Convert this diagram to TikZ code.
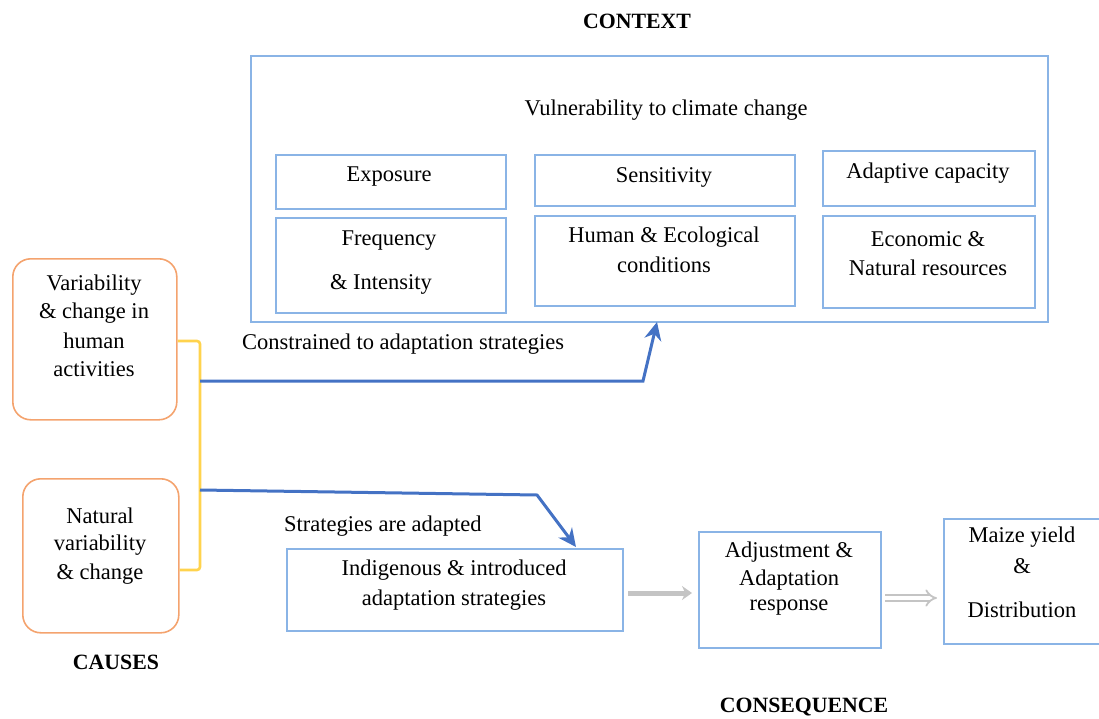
\documentclass[tikz,border=0pt]{standalone}
\usepackage{fontspec}
\setmainfont{Liberation Serif}
\usetikzlibrary{arrows.meta}
\definecolor{boxblue}{HTML}{8AB4E6}
\definecolor{arrowblue}{HTML}{4472C4}
\definecolor{boxorange}{HTML}{F4A36E}
\definecolor{bracketyellow}{HTML}{FFD34D}
\definecolor{arrowgray}{HTML}{C4C4C4}
\begin{document}
\begin{tikzpicture}[x=1pt,y=-1pt,
  every node/.style={font=\fontsize{22.5}{28}\selectfont},
  bbox/.style={draw=boxblue, line width=1.6pt, rectangle, inner sep=0pt, anchor=north west},
  obox/.style={draw=boxorange, line width=1.6pt, rectangle, rounded corners=18pt, inner sep=0pt, anchor=north west},
  txt/.style={inner sep=0pt, align=center},
  head/.style={inner sep=0pt, font=\fontsize{21.8}{26}\selectfont\bfseries},
  bluearrow/.style={draw=arrowblue, line width=3pt, -{Stealth[length=18pt,width=17pt]}},
  grayarrow/.style={draw=arrowgray, line width=5pt, -{Stealth[length=10pt,width=14pt]}},
  hollowarrow/.style={draw=arrowgray, double=white, double distance=4pt, line width=1.8pt, -{Implies}}
]
\useasboundingbox (0,0) rectangle (1099,719);

% headings
\node[head] (hctx) at (637,21) {CONTEXT};
\node[head] (hcau) at (116,662) {CAUSES};
\node[head] (hcon) at (804,707) {CONSEQUENCE};

% context box
\node[bbox, minimum width=797, minimum height=266] (ctx) at (250,55) {};
\node[txt] (vul) at (666,110) {Vulnerability to climate change};

\node[bbox, minimum width=230, minimum height=54] (expo) at (275,154) {};
\node[txt] at (389,177) {Exposure};
\node[bbox, minimum width=260, minimum height=51] (sens) at (534,154) {};
\node[txt] at (664,177) {Sensitivity};
\node[bbox, minimum width=212, minimum height=55] (adcap) at (822,150) {};
\node[txt] at (928,173) {Adaptive capacity};

\node[bbox, minimum width=230, minimum height=95] (freq) at (275,217) {};
\node[txt] at (389,241) {Frequency};
\node[txt] at (381,284) {\& Intensity};
\node[bbox, minimum width=260, minimum height=90] (human) at (534,215) {};
\node[txt] at (664,237) {Human \& Ecological};
\node[txt] at (664,265) {conditions};
\node[bbox, minimum width=212, minimum height=92] (econ) at (822,215) {};
\node[txt] at (928,239) {Economic \&};
\node[txt] at (928,268) {Natural resources};

% causes
\node[obox, minimum width=164, minimum height=161] (var) at (12,258) {};
\node[txt] at (94,285) {Variability};
\node[txt] at (94,313) {\& change in};
\node[txt] at (94,341) {human};
\node[txt] at (94,369) {activities};

\node[obox, minimum width=156, minimum height=154] (nat) at (22,478) {};
\node[txt] at (100,516) {Natural};
\node[txt] at (100,545) {variability};
\node[txt] at (100,574) {\& change};

% bracket
\coordinate (bt) at (200,341);
\coordinate (bb) at (200,570);
\draw[bracketyellow, line width=2.6pt, rounded corners=3pt]
  (var.east |- bt) -- (bt) -- (bb) -- (nat.east |- bb);

% consequence boxes
\node[bbox, minimum width=336, minimum height=82] (indig) at (286,548) {};
\node[txt] at (454,570) {Indigenous \& introduced};
\node[txt] at (454,600) {adaptation strategies};

\node[bbox, minimum width=182, minimum height=116] (adj) at (698,531) {};
\node[txt] at (789,552) {Adjustment \&};
\node[txt] at (789,580) {Adaptation};
\node[txt] at (789,608) {response};

\node[bbox, minimum width=170, minimum height=125] (maize) at (943,518) {};
\node[txt] at (1022,537) {Maize yield};
\node[txt] at (1022,566) {\&};
\node[txt] at (1022,610) {Distribution};

% labels
\node[txt, anchor=west] (lab1) at (242,344) {Constrained to adaptation strategies};
\node[txt, anchor=west] (lab2) at (284,526) {Strategies are adapted};

% blue arrows
\coordinate (a1s) at (200,381);
\coordinate (a1m) at (643,381);
\coordinate (a1e) at (657,322);
\draw[bluearrow] (a1s) -- (a1m) -- (a1e);
\coordinate (a2s) at (200,490);
\coordinate (a2m) at (537,495);
\coordinate (a2e) at (576,547);
\draw[bluearrow] (a2s) -- (a2m) -- (a2e);

% gray arrows
\coordinate (g1s) at (628,593);
\coordinate (g1e) at (692,593);
\draw[grayarrow] (g1s) -- (g1e);
\coordinate (g2s) at (885,598);
\coordinate (g2e) at (937,598);
\draw[hollowarrow] (g2s) -- (g2e);
\end{tikzpicture}
\end{document}
